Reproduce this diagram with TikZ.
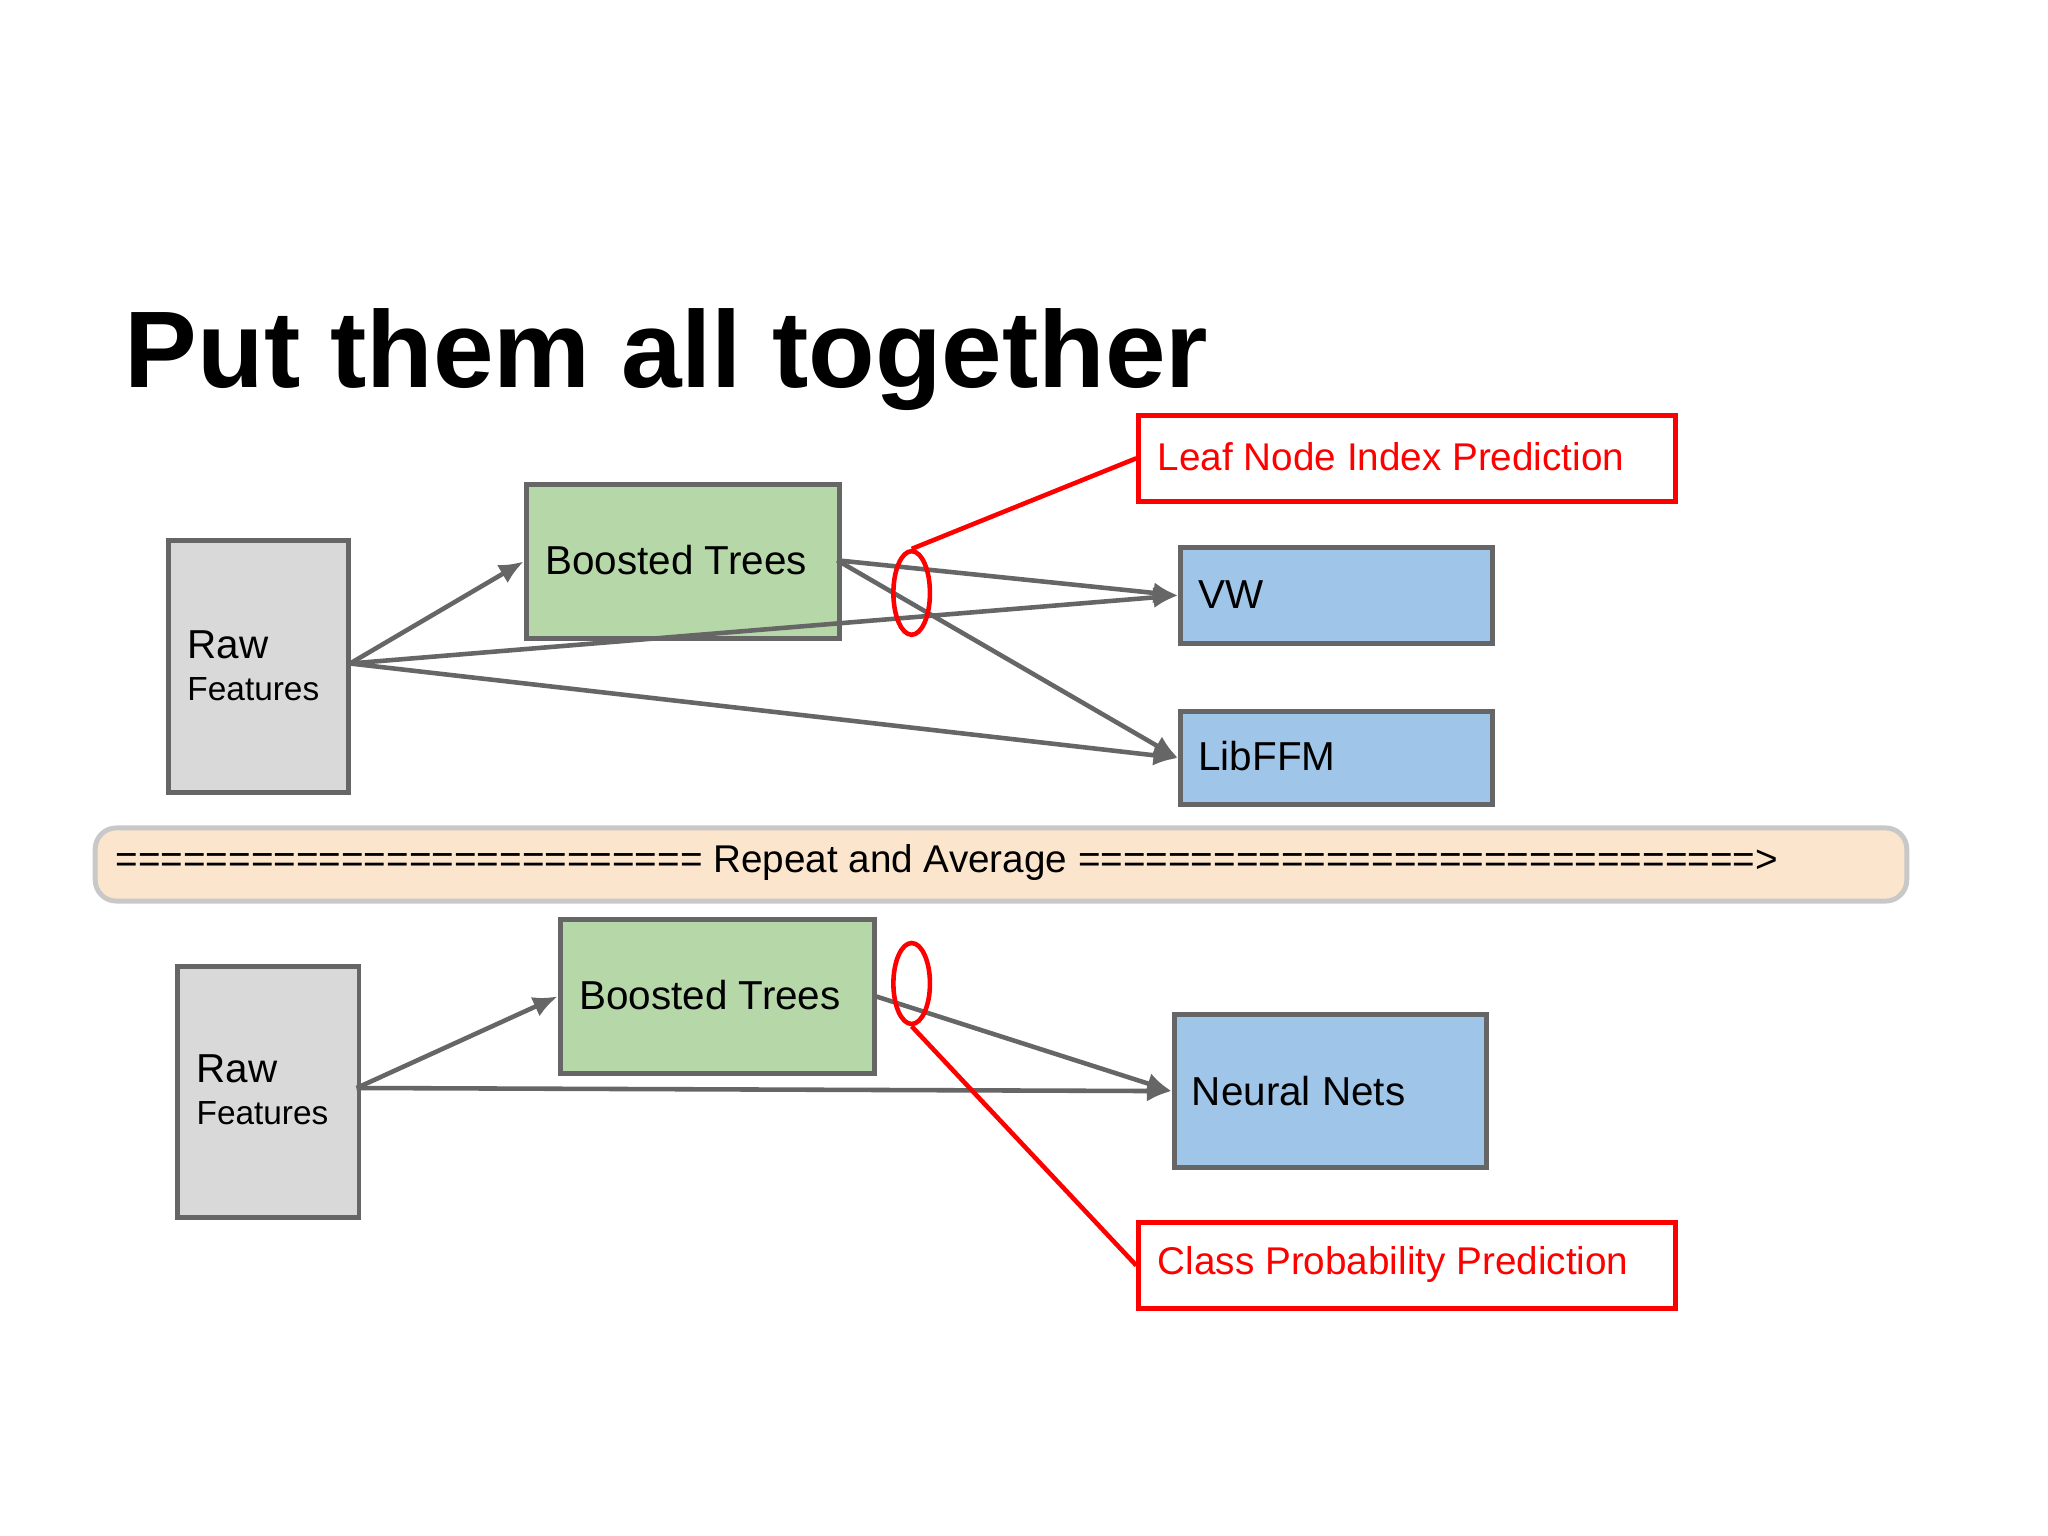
\documentclass[tikz,border=0pt]{standalone}
\usepackage{fontspec}
\setmainfont{Liberation Sans}
\usetikzlibrary{shapes.geometric,arrows.meta}
\definecolor{rawgray}{HTML}{D9D9D9}
\definecolor{edgegray}{HTML}{666666}
\definecolor{btgreen}{HTML}{B6D7A8}
\definecolor{nnblue}{HTML}{9FC5E8}
\definecolor{peach}{HTML}{FCE5CD}
\definecolor{bannerline}{HTML}{C8C8C8}
\begin{document}
\begin{tikzpicture}[x=0.013061cm,y=-0.013061cm,
  box/.style={draw=edgegray, line width=1.4pt, anchor=north west, inner sep=0pt},
  lbl/.style={font=\fontsize{11.5}{13}\selectfont, text=black},
  redbox/.style={draw=red, line width=1.4pt, anchor=north west, minimum width=411*0.013061cm, minimum height=66*0.013061cm, inner sep=0pt},
  redtxt/.style={text=red, font=\fontsize{11}{13}\selectfont},
  conn/.style={draw=edgegray, line width=1.3pt, -{Latex[length=7pt,width=6pt]}},
  ring/.style={draw=red, line width=1.3pt, ellipse, minimum width=28*0.013061cm, minimum height=64*0.013061cm, inner sep=0pt},
  redline/.style={draw=red, line width=1.3pt}]
\useasboundingbox (0,0) rectangle (1568,1176);
\fill[white] (0,0) rectangle (1568,1176);
% title
\node[anchor=base west, inner sep=0pt, font=\fontsize{31}{36}\selectfont\bfseries] (title) at (95,297) {Put them all together};
% banner
\node[draw=bannerline, fill=peach, line width=1.4pt, rounded corners=6pt, anchor=north west, minimum width=1387*0.013061cm, minimum height=56*0.013061cm, inner sep=0pt] (banner) at (71,632) {};
\node[anchor=west, inner sep=0pt, lbl, font=\fontsize{11}{13}\selectfont] (bantxt) at (88,660) {========================== Repeat and Average ==============================>};
% upper row
\node[box, fill=rawgray, minimum width=138*0.013061cm, minimum height=193*0.013061cm] (raw1) at (127,412) {};
\node[anchor=base west, inner sep=0pt, lbl] (raw1a) at (143,504) {Raw};
\node[anchor=base west, inner sep=0pt, font=\fontsize{9.5}{11}\selectfont] (raw1b) at (143,536) {Features};
\node[box, fill=btgreen, minimum width=240*0.013061cm, minimum height=118*0.013061cm] (bt1) at (401,369) {};
\node[anchor=west, inner sep=0pt, lbl] (bt1t) at (417,429) {Boosted Trees};
\node[box, fill=nnblue, minimum width=239*0.013061cm, minimum height=74*0.013061cm] (vw) at (902,417) {};
\node[anchor=west, inner sep=0pt, lbl] (vwt) at (917,455) {VW};
\node[box, fill=nnblue, minimum width=239*0.013061cm, minimum height=71*0.013061cm] (ffm) at (902,543) {};
\node[anchor=west, inner sep=0pt, lbl] (ffmt) at (917,579) {LibFFM};
\node[redbox] (leaf) at (870,316) {};
\node[anchor=west, inner sep=0pt, redtxt] (leaft) at (886,350) {Leaf Node Index Prediction};
\coordinate (r1) at (268,508);
\coordinate (b1) at (641,429);
\draw[conn] (r1) -- (bt1.west);
\draw[conn] (r1) -- (vw.west);
\draw[conn] (r1) -- (ffm.west);
\draw[conn] (b1) -- (vw.west);
\draw[conn] (b1) -- (ffm.west);
\node[ring] (ring1) at (698,454) {};
\draw[redline] (ring1.north) -- (leaf.west);
% lower row
\node[box, fill=rawgray, minimum width=139*0.013061cm, minimum height=192*0.013061cm] (raw2) at (134,738) {};
\node[anchor=base west, inner sep=0pt, lbl] (raw2a) at (150,829) {Raw};
\node[anchor=base west, inner sep=0pt, font=\fontsize{9.5}{11}\selectfont] (raw2b) at (150,861) {Features};
\node[box, fill=btgreen, minimum width=241*0.013061cm, minimum height=118*0.013061cm] (bt2) at (427,702) {};
\node[anchor=west, inner sep=0pt, lbl] (bt2t) at (443,762) {Boosted Trees};
\node[box, fill=nnblue, minimum width=239*0.013061cm, minimum height=117*0.013061cm] (nn) at (897,775) {};
\node[anchor=west, inner sep=0pt, lbl] (nnt) at (912,835) {Neural Nets};
\node[redbox] (cls) at (870,934) {};
\node[anchor=west, inner sep=0pt, redtxt] (clst) at (886,968) {Class Probability Prediction};
\coordinate (r2) at (273,833);
\coordinate (b2) at (668,762);
\draw[conn] (r2) -- (bt2.west);
\draw[conn] (r2) -- (nn.west);
\draw[conn] (b2) -- (nn.west);
\node[ring, minimum height=62*0.013061cm] (ring2) at (698,753) {};
\draw[redline] (ring2.south) -- (cls.west);
\end{tikzpicture}
\end{document}
